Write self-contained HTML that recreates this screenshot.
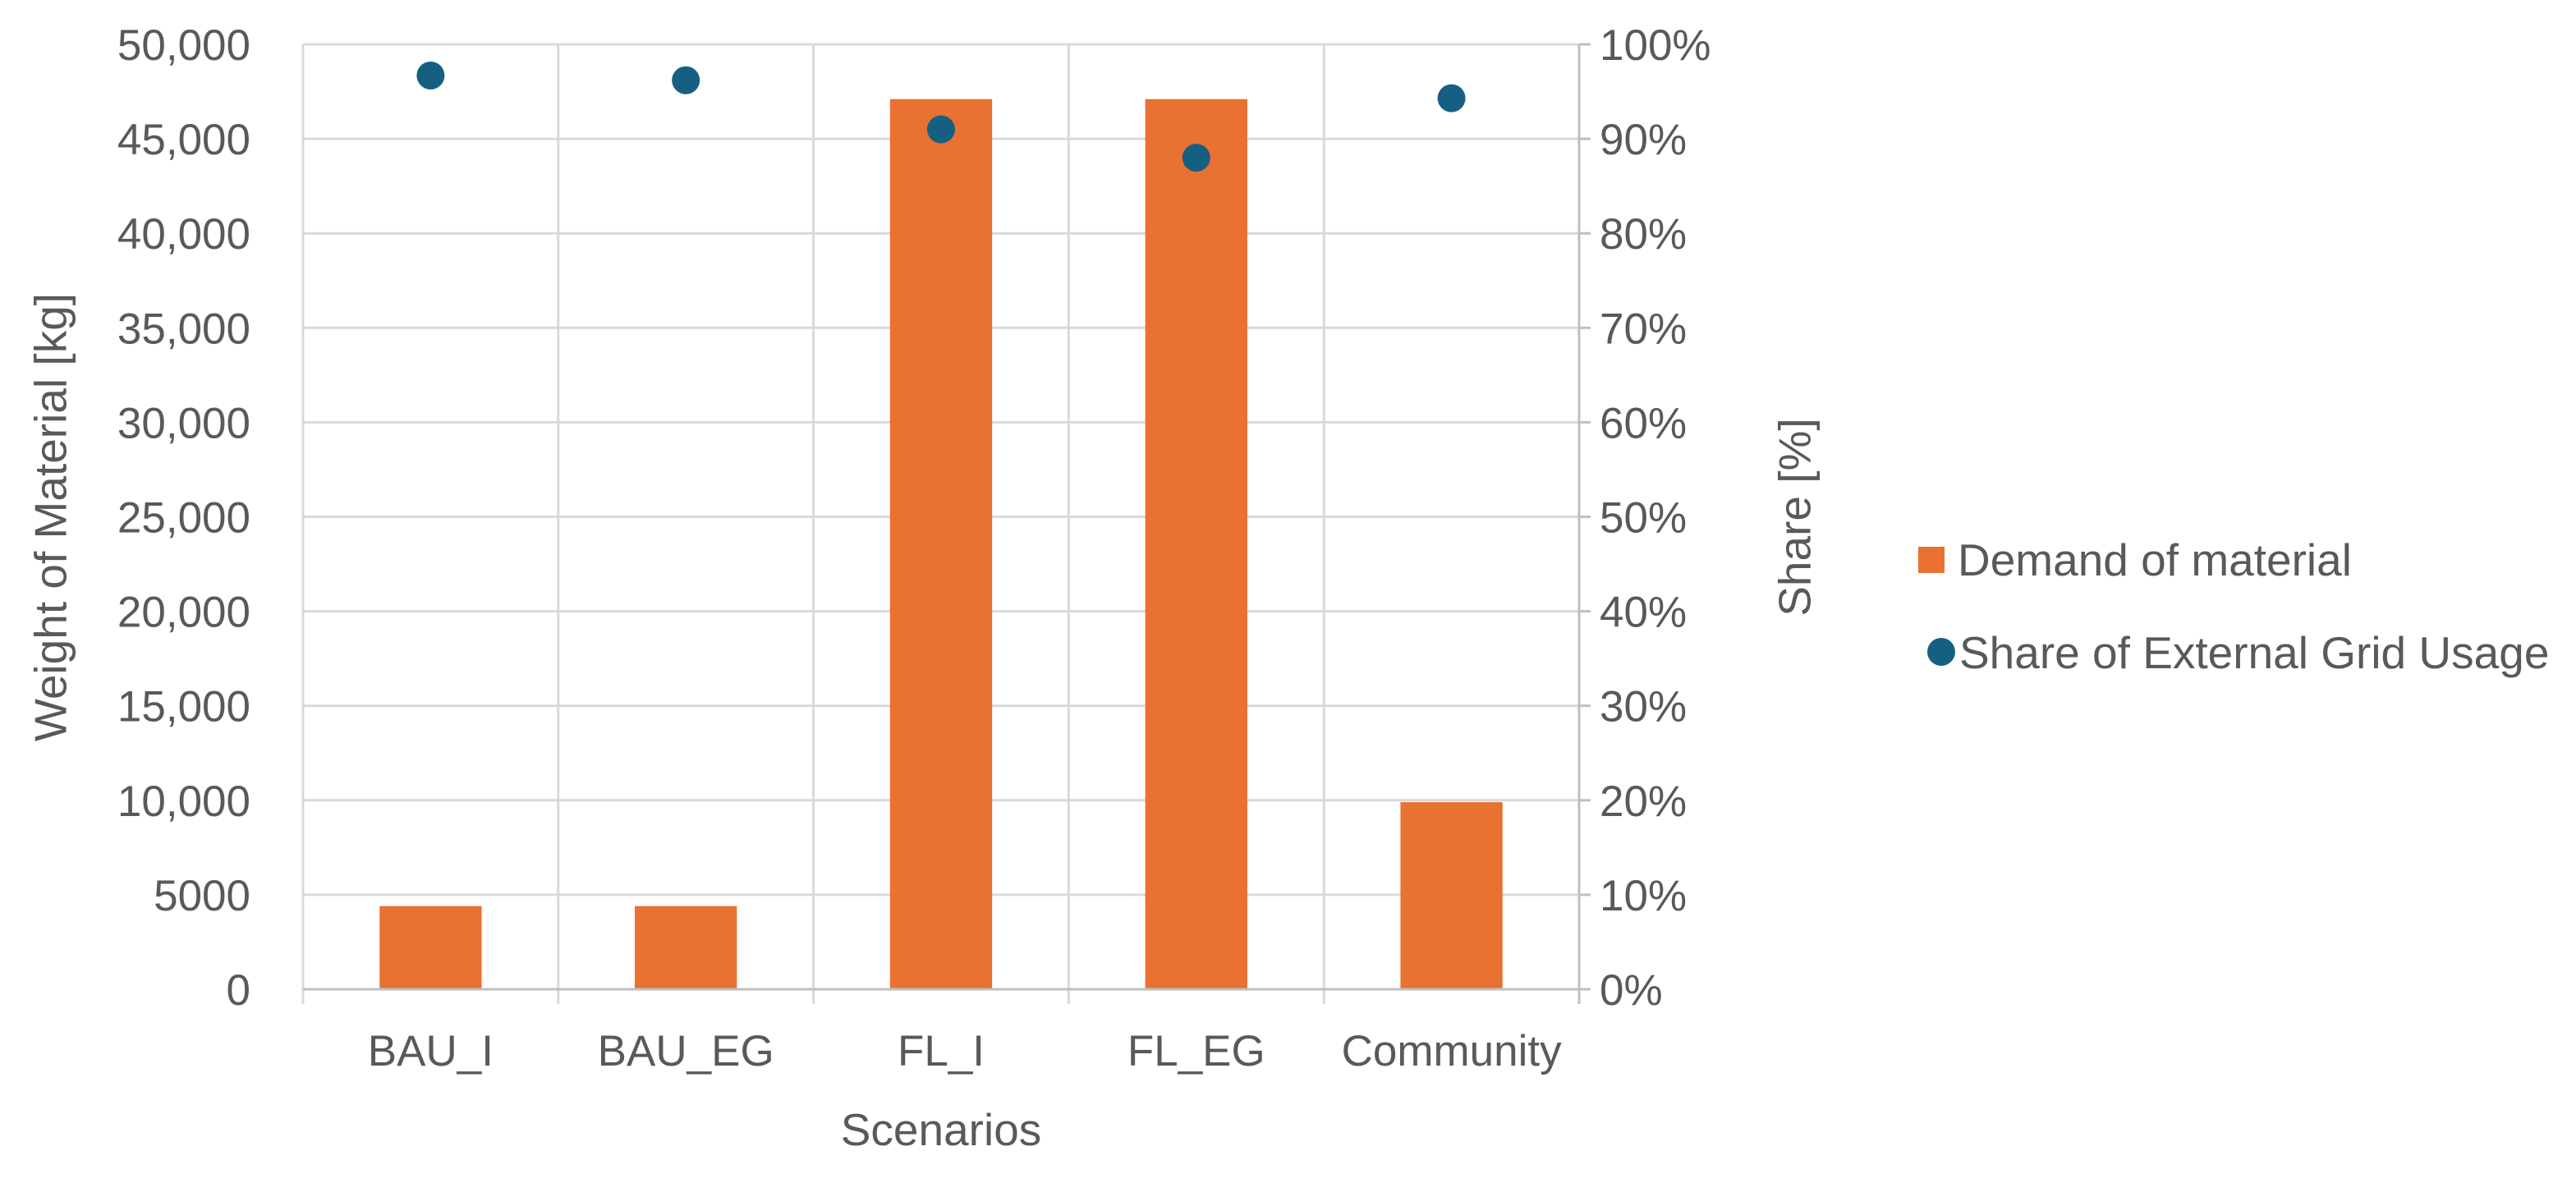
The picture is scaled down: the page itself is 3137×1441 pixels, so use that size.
<!DOCTYPE html>
<html><head><meta charset="utf-8"><style>
html,body{margin:0;padding:0;background:#fff}
svg text{font-family:"Liberation Sans",sans-serif;fill:#595959}
</style></head><body>
<svg id="chart" width="3137" height="1436" viewBox="0 0 3137 1436" xmlns="http://www.w3.org/2000/svg">
<g id="grid"></g>
<g id="bars"></g>
<g id="dots"></g>
<g id="axes"></g>
<text x="66" y="630" font-size="55" text-anchor="middle" transform="rotate(-90 66 630)" dominant-baseline="middle">Weight of Material [kg]</text>
<text x="2190" y="630" font-size="55" text-anchor="middle" transform="rotate(-90 2190 630)" dominant-baseline="middle">Share [%]</text>
<text x="1146" y="1395" font-size="55" text-anchor="middle">Scenarios</text>
<g>
<rect x="2336" y="666" width="32" height="32" fill="#E97132"/>
<text x="2384" y="701" font-size="55">Demand of material</text>
<circle cx="2364" cy="794" r="17" fill="#156082"/>
<text x="2386" y="814" font-size="55">Share of External Grid Usage</text>
</g>
</svg>
<script>
const categories=["BAU_I","BAU_EG","FL_I","FL_EG","Community"];
const demand=[4400,4400,47100,47100,9900];
const share=[96.7,96.2,91.0,88.0,94.3];
const leftTicks=[0,5000,10000,15000,20000,25000,30000,35000,40000,45000,50000];
const leftLabels=["0","5000","10,000","15,000","20,000","25,000","30,000","35,000","40,000","45,000","50,000"];
const rightTicks=[0,10,20,30,40,50,60,70,80,90,100];
const NS="http://www.w3.org/2000/svg";
const L=369,R=1923,T=54,B=1205;
const yL=v=>B-(v/50000)*(B-T);
const yR=v=>B-(v/100)*(B-T);
const bw=(R-L)/categories.length;
const xC=i=>L+bw*(i+0.5);
function mk(tag,attrs,parent){const e=document.createElementNS(NS,tag);for(const k in attrs)e.setAttribute(k,attrs[k]);document.getElementById(parent).appendChild(e);return e;}
leftTicks.forEach((v,i)=>{
 if(i>0){const g=mk('line',{x1:L,x2:R,y1:yL(v),y2:yL(v),stroke:'#d9d9d9','stroke-width':3},'grid');
 
 }
 const t=mk('text',{x:305,y:yL(v)+19,'font-size':53,'text-anchor':'end'},'axes');t.textContent=leftLabels[i];
 
 
});
rightTicks.forEach(v=>{
 const t=mk('text',{x:1948,y:yR(v)+19,'font-size':53},'axes');t.textContent=v+'%';
 
 
 const tk=mk('line',{x1:R,x2:R+14,y1:yR(v),y2:yR(v),stroke:'#bfbfbf','stroke-width':3},'axes');
 
 
});
for(let i=0;i<=categories.length;i++){
 const x=L+bw*i;
 const g=mk('line',{x1:x,x2:x,y1:T,y2:B+18,stroke:i==categories.length?'#bfbfbf':'#d9d9d9','stroke-width':3},'grid');
 
 
}
categories.forEach((c,i)=>{
 const w=bw*0.4;
 const b=mk('rect',{x:xC(i)-w/2,y:yL(demand[i]),width:w,height:B-yL(demand[i]),fill:'#E97132'},'bars');
 
 
 const d=mk('circle',{cx:xC(i),cy:yR(share[i]),r:17,fill:'#156082'},'dots');
 
 
 const t=mk('text',{x:xC(i),y:1298,'font-size':53,'text-anchor':'middle'},'axes');t.textContent=c;
 
 
});
const ax=mk('line',{x1:L,x2:R,y1:B,y2:B,stroke:'#bfbfbf','stroke-width':3},'axes');


</script>
</body></html>
